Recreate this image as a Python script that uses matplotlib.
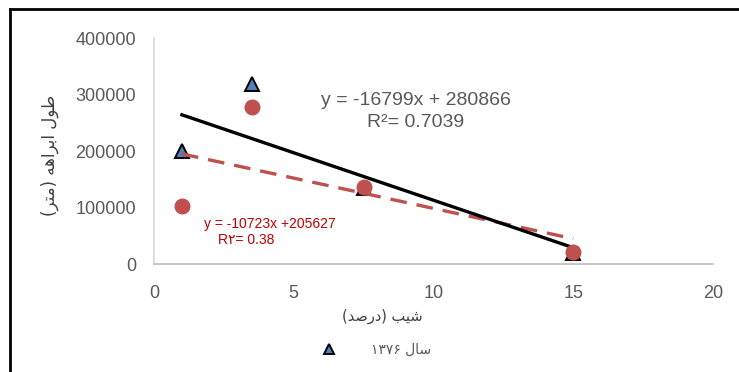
import numpy as np
import matplotlib
matplotlib.use("Agg")
import matplotlib.pyplot as plt
from matplotlib.lines import Line2D

# slope (%) and channel length (m)
slope_1376 = [1, 3.5, 7.5, 15]
length_1376 = [200000, 318000, 134000, 19000]
slope_other = [1, 3.5, 7.5, 15]
length_other = [102000, 278000, 136000, 21000]

# trend lines as printed on the chart
fit_black = (-16799, 280866)
fit_red = (-10723, 205627)
fit_x = [1, 15]

xticks = [0, 5, 10, 15, 20]
yticks = [0, 100000, 200000, 300000, 400000]

# Persian strings, pre-shaped (presentation forms, visual order)
ylabel_fa = "(\uFEAE\uFE98\uFEE3) \uFEEA\uFEEB\uFE8D\uFEAE\uFE91\uFE8D \uFEDD\uFEEE\uFEC3"
xlabel_fa = "(\uFEAA\uFEBB\uFEAD\uFEA9) \uFE90\uFEF4\uFEB7"
legend_fa = "\u06F1\u06F3\u06F7\u06F6 \uFEDD\uFE8E\uFEB3"

plt.rcParams['font.family'] = ['Liberation Sans', 'DejaVu Sans']

grey = '#595959'
red_mark = '#C0504D'
red_text = '#C00000'

fig = plt.figure(figsize=(7.39, 3.72), dpi=100)
ax = fig.add_axes([0.2084, 0.2903, 0.7564, 0.6075])

tri, = ax.plot(slope_1376, length_1376, linestyle='none', marker='^', markersize=10,
               markerfacecolor='#4F81BD', markeredgecolor='black', markeredgewidth=1.4, zorder=2)
ax.plot(fit_x, np.polyval(fit_red, fit_x), color=red_mark, linewidth=2.4,
        dashes=(5, 3), zorder=3)
ax.plot(fit_x, np.polyval(fit_black, fit_x), color='black', linewidth=2.4, zorder=3)
ax.plot(slope_other, length_other, linestyle='none', marker='o', markersize=10.5,
        markerfacecolor=red_mark, markeredgecolor=red_mark, zorder=4)

ax.set_xlim(0, 20)
ax.set_ylim(0, 400000)
ax.set_xticks(xticks)
ax.set_yticks(yticks)
ax.tick_params(length=0, labelsize=13, labelcolor=grey)
ax.tick_params(axis='x', pad=15)
ax.tick_params(axis='y', pad=13)
for s in ['top', 'right']:
    ax.spines[s].set_visible(False)
ax.spines['left'].set_color('#d9d9d9')
ax.spines['bottom'].set_color('#bfbfbf')
ax.spines['left'].set_linewidth(1.2)
ax.spines['bottom'].set_linewidth(1.2)

ax.text(9.37, 290000, "y = -16799x + 280866", ha='center', va='center',
        fontsize=14, color=grey)
ax.text(9.35, 251000, "R\u00b2= 0.7039", ha='center', va='center', fontsize=14, color=grey)
ax.text(4.15, 70000, "y = -10723x +205627", ha='center', va='center', fontsize=10, color=red_text)
ax.text(3.3, 42000, "R\u06F2= 0.38", ha='center', va='center', fontsize=10, color=red_text)

fig.text(50 / 739, 1 - 155 / 372, ylabel_fa, rotation=90, ha='center', va='center',
         fontsize=12, color='#404040', family=['DejaVu Sans'])
fig.text(382 / 739, 1 - 316 / 372, xlabel_fa, ha='center', va='center',
         fontsize=10.5, color='#404040', family=['DejaVu Sans'])

leg = fig.legend([tri], [legend_fa], loc='center', bbox_to_anchor=(373 / 739, 1 - 350 / 372),
                 frameon=False, handletextpad=2.0, markerscale=0.75,
                 prop={'family': 'DejaVu Sans', 'size': 10})
for t in leg.get_texts():
    t.set_color(grey)

# outer frame (left and top edges visible in the reference)
fig.add_artist(Line2D([10 / 739, 10 / 739], [0, 1 - 9 / 372], color='black', linewidth=2,
                      transform=fig.transFigure))
fig.add_artist(Line2D([10 / 739, 1], [1 - 9 / 372, 1 - 9 / 372], color='black', linewidth=2,
                      transform=fig.transFigure))

fig.savefig("out.png", dpi=100)
